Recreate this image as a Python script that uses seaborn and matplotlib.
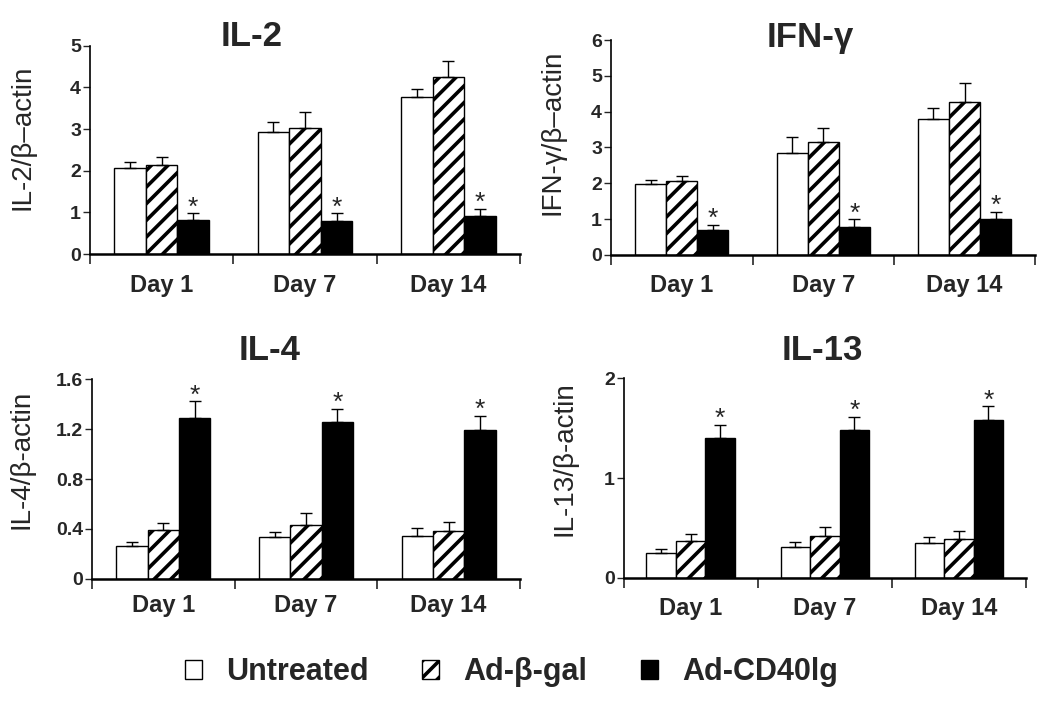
import numpy as np
import pandas as pd
import seaborn as sns
import matplotlib.pyplot as plt
from matplotlib.patches import Patch

# ---------------------------------------------------------------------------- #
days = ["Day 1", "Day 7", "Day 14"]
groups = ["Untreated", "Ad-β-gal", "Ad-CD40lg"]

# rows = groups (Untreated, Ad-β-gal, Ad-CD40lg), cols = days
il2_mean = [[2.06, 2.94, 3.78], [2.13, 3.02, 4.25], [0.82, 0.79, 0.92]]
il2_err = [[0.14, 0.22, 0.19], [0.19, 0.38, 0.39], [0.16, 0.19, 0.17]]

ifn_mean = [[1.98, 2.85, 3.80], [2.07, 3.14, 4.28], [0.69, 0.78, 1.00]]
ifn_err = [[0.12, 0.43, 0.29], [0.14, 0.40, 0.52], [0.15, 0.21, 0.20]]

il4_mean = [[0.266, 0.335, 0.343], [0.389, 0.429, 0.381], [1.290, 1.254, 1.190]]
il4_err = [[0.032, 0.043, 0.064], [0.056, 0.100, 0.074], [0.134, 0.110, 0.117]]

il13_mean = [[0.253, 0.310, 0.350], [0.370, 0.417, 0.393], [1.397, 1.480, 1.583]]
il13_err = [[0.034, 0.050, 0.057], [0.070, 0.090, 0.080], [0.136, 0.133, 0.134]]

FONT = ["Liberation Sans", "DejaVu Sans"]

sns.set_theme(style="white")
plt.rcParams["font.family"] = FONT
plt.rcParams["hatch.linewidth"] = 2.6
plt.rcParams["hatch.color"] = "black"


def to_frame(means):
    rows = []
    for g, vals in zip(groups, means):
        for d, v in zip(days, vals):
            rows.append({"day": d, "group": g, "value": v})
    return pd.DataFrame(rows)


def cytokine_plot(ax, means, errs, title, ylabel, ylim, yticks, yticklabels,
                  title_xy, label_xy, day_pad):
    df = to_frame(means)
    sns.barplot(data=df, x="day", y="value", hue="group", order=days,
                hue_order=groups, palette=["white", "white", "black"],
                edgecolor="black", linewidth=1.0, width=0.66, errorbar=None,
                legend=False, ax=ax)

    bar_sets = list(ax.containers)
    for i, bars in enumerate(bar_sets):
        xs = [b.get_x() + b.get_width() / 2 for b in bars]
        ys = [b.get_height() for b in bars]
        if i == 1:
            for b in bars:
                b.set_hatch("//")
        ax.errorbar(xs, ys, yerr=[np.zeros(len(ys)), errs[i]], fmt="none",
                    ecolor="black", elinewidth=1.0, capsize=4.5, capthick=1.0,
                    zorder=1)
        if i == 2:
            for x, y, e in zip(xs, ys, errs[i]):
                ax.annotate("*", (x, y + e), xytext=(0, -1),
                            textcoords="offset points", ha="center",
                            va="baseline", fontsize=19)

    ax.set_xlim(-0.5, 2.5)
    ax.set_ylim(*ylim)
    ax.set_yticks(yticks)
    ax.set_yticklabels(yticklabels, fontsize=14, fontweight="bold")
    ax.tick_params(axis="y", direction="out", length=5, width=1, pad=1.5,
                   left=True)

    ax.set_xticks([-0.5, 0.5, 1.5, 2.5])
    ax.set_xticklabels([])
    ax.set_xticks([0, 1, 2], minor=True)
    ax.set_xticklabels(days, minor=True, fontsize=17, fontweight="bold")
    ax.tick_params(axis="x", which="major", direction="out", length=7,
                   width=1.2, bottom=True)
    ax.tick_params(axis="x", which="minor", length=0, pad=day_pad)

    sns.despine(ax=ax)
    ax.spines["bottom"].set_linewidth(1.8)
    ax.spines["left"].set_linewidth(1.2)
    ax.spines["bottom"].set_color("black")
    ax.spines["left"].set_color("black")

    ax.set_xlabel("")
    ax.set_ylabel(ylabel, fontsize=20)
    ax.yaxis.label.set_verticalalignment("center")
    ax.yaxis.set_label_coords(*label_xy)
    ax.text(title_xy[0], title_xy[1], title, transform=ax.transAxes,
            ha="center", va="baseline", fontsize=25, fontweight="bold")
    return ax


fig = plt.figure(figsize=(10.5, 7.04), dpi=100)

ax1 = fig.add_axes([0.0857, 0.639, 0.4095, 0.296])
cytokine_plot(ax1, il2_mean, il2_err, "IL-2", "IL-2/β–actin", (0, 5),
              range(6), [str(v) for v in range(6)], (0.377, 1.0),
              (-0.158, 0.56), 14)

ax2 = fig.add_axes([0.582, 0.638, 0.404, 0.305])
cytokine_plot(ax2, ifn_mean, ifn_err, "IFN-γ", "IFN-γ/β–actin", (0, 6),
              range(7), [str(v) for v in range(7)], (0.47, 0.967),
              (-0.139, 0.57), 14)

ax3 = fig.add_axes([0.0876, 0.1776, 0.4076, 0.284])
cytokine_plot(ax3, il4_mean, il4_err, "IL-4", "IL-4/β-actin", (0, 1.6),
              [0, 0.4, 0.8, 1.2, 1.6], ["0", "0.4", "0.8", "1.2", "1.6"],
              (0.416, 1.095), (-0.164, 0.6), 11)

ax4 = fig.add_axes([0.594, 0.179, 0.383, 0.284])
cytokine_plot(ax4, il13_mean, il13_err, "IL-13", "IL-13/β-actin", (0, 2),
              [0, 1, 2], ["0", "1", "2"], (0.495, 1.09),
              (-0.147, 0.595), 14)

handles = [
    Patch(facecolor="white", edgecolor="black", linewidth=1.0),
    Patch(facecolor="white", edgecolor="black", linewidth=1.0, hatch="//"),
    Patch(facecolor="black", edgecolor="black", linewidth=1.0),
]
fig.legend(handles, groups, loc="center", bbox_to_anchor=(0.487, 0.045),
           ncol=3, frameon=False, handlelength=0.55, handleheight=0.55,
           handletextpad=0.8, columnspacing=1.75,
           prop={"family": FONT, "size": 22, "weight": "bold"})

fig.savefig("out.png", dpi=100)
